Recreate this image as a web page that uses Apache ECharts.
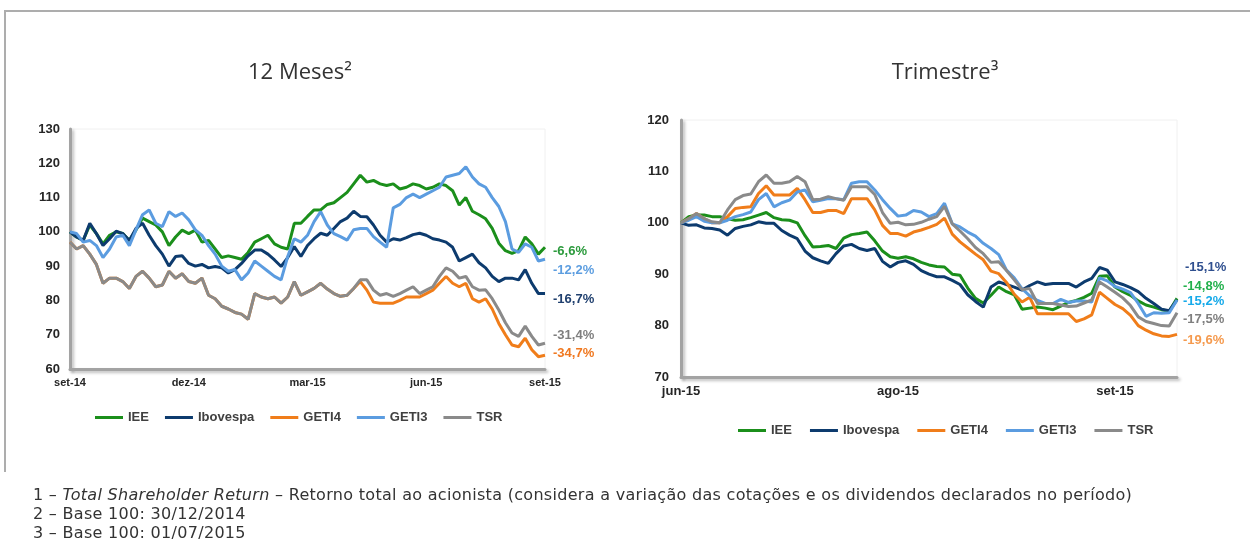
<!DOCTYPE html>
<html>
<head>
<meta charset="utf-8">
<script src="https://cdn.jsdelivr.net/npm/echarts@6/dist/echarts.min.js"></script>
<style>
  body { margin: 0; background: #fff; }
  #wrap { position: relative; width: 1250px; height: 550px; overflow: hidden; }
  #frame { position: absolute; left: 4px; top: 10px; width: 1260px; height: 460px; border-top: 2px solid #adadad; border-left: 2px solid #adadad; }
  #chart { position: absolute; left: 0; top: 0; width: 1250px; height: 550px; }
  #notes { position: absolute; left: 33px; top: 485px; font-family: 'DejaVu Sans', sans-serif; font-size: 16px; letter-spacing: 0.3px; line-height: 19px; color: #333; white-space: nowrap; }
</style>
</head>
<body>
<div id="wrap">
  <div id="frame"></div>
  <div id="chart"></div>
  <div id="notes">
    <div>1 – <i>Total Shareholder Return</i> – Retorno total ao acionista (considera a variação das cotações e os dividendos declarados no período)</div>
    <div>2 – Base 100: 30/12/2014</div>
    <div>3 – Base 100: 01/07/2015</div>
  </div>
</div>
<script>
// rótulos dos eixos
const leftTicks = ['set-14', 'dez-14', 'mar-15', 'jun-15', 'set-15'];
const rightTicks = ['jun-15', 'ago-15', 'set-15'];
const seriesNames = ['IEE', 'Ibovespa', 'GETI4', 'GETI3', 'TSR'];

// variação final escrita ao lado de cada linha
const yearEndLabels = ['-6,6%', '-16,7%', '-34,7%', '-12,2%', '-31,4%'];
const quarterEndLabels = ['-14,8%', '-15,1%', '-19,6%', '-15,2%', '-17,5%'];

// === 12 Meses (set-14 .. set-15) ===
const ieeYear = [100, 98.5, 97.5, 102, 99.5, 96.5, 99, 100, 99.5, 97.5, 100.5, 104, 103, 102, 100, 96, 98.5, 100.5, 99.5, 100.5,
  97, 97.5, 95, 92.5, 93, 92.5, 92, 94, 97, 98, 99, 96.5, 95.5, 95, 102.5, 102.5, 104.5, 106.4, 106.4, 108,
  108.5, 110, 111.5, 114, 116.5, 114.5, 115, 114, 113.5, 114, 112.5, 113, 114, 113.5, 112.5, 113, 114, 113.5, 112, 107.8,
  110, 106, 105, 103.8, 101, 96.7, 94.5, 93.7, 94.5, 98.5, 96.5, 93.5, 95.5];
const ibovYear = [100, 98.5, 97.5, 102.5, 99.5, 96, 98, 100.2, 99.5, 97.5, 101, 102.5, 99, 96, 93.5, 90, 92.8, 93, 90.8, 90,
  90.5, 89.5, 89.9, 89.5, 88, 89, 90.8, 93, 94.7, 94.7, 93.5, 91.8, 89.9, 92.5, 95.7, 92.8, 96, 98, 99.6, 99,
  101, 103, 104, 106, 104.5, 104.4, 102, 99, 97, 98, 97.6, 98.3, 99.2, 99.6, 99, 98, 97.6, 97, 95.5, 91.5,
  92.5, 93.5, 91, 89.5, 87, 85.5, 86.5, 86.5, 86, 89, 85, 82, 82];
const geti4Year = [97, 95, 96, 93.5, 90.5, 85, 86.5, 86.5, 85.5, 83.5, 87, 88.5, 86.5, 84, 84.5, 88.5, 86.5, 87.8, 85.5, 85,
  86.5, 81.5, 80.5, 78.3, 77.5, 76.5, 76, 74.5, 82, 81, 80.5, 81, 79.2, 81, 85.5, 81.5, 82.5, 83.5, 85, 83.3,
  82, 81.2, 81.5, 83.5, 85.5, 83, 79.5, 79.2, 79.2, 79.2, 80, 81, 81, 81, 82, 83, 85, 87, 85, 84,
  85, 80.5, 79.5, 80.5, 77.5, 73.3, 70, 67, 66.5, 69, 65.6, 63.6, 64];
const geti3Year = [100, 99.5, 97, 97.5, 96, 92.5, 95, 98.5, 99, 96, 100.6, 105, 106.4, 102.5, 101.5, 105.9, 104.5, 105.5, 103.5, 100.6,
  99, 96, 93.5, 90, 88.5, 89, 86, 88, 91.5, 90, 88.5, 87, 86, 92.8, 98, 97, 99, 103, 105.9, 102,
  99.5, 98.6, 97.6, 100.6, 101, 101, 98.6, 97, 95.5, 107, 108, 110, 111, 110, 111, 112, 113, 116, 116.5, 117,
  119, 116, 114, 113, 110, 107.4, 103, 95, 94, 96.5, 95.5, 91.5, 92];
const tsrYear = [97, 95, 96, 93.5, 90.5, 85, 86.5, 86.5, 85.5, 83.5, 87, 88.5, 86.5, 84, 84.5, 88.5, 86.5, 87.8, 85.5, 85,
  86.5, 81.5, 80.5, 78.3, 77.5, 76.5, 76, 74.5, 82, 81, 80.5, 81, 79.2, 81, 85.5, 81.5, 82.5, 83.5, 85, 83.3,
  82, 81.2, 81.5, 83.5, 86, 86, 83, 81.5, 82, 81.2, 82, 83, 84, 82, 83, 84, 87, 89.5, 88.5, 86.5,
  87, 84, 83, 83.1, 80.5, 77.2, 73.5, 70.5, 69.5, 72.5, 69.5, 67, 67.5];

// === Trimestre (jun-15 .. set-15) ===
const ieeQuarter = [100, 101.2, 101.5, 101.5, 101.2, 101.2, 100.8, 100.5, 100.6, 101, 101.5, 102, 101, 100.6, 100.5, 100,
  97.5, 95.3, 95.4, 95.6, 95, 97, 97.7, 97.9, 98.2, 96.5, 94.5, 93.4, 93.1, 93.4, 93, 92.3,
  91.8, 91.5, 91.4, 90, 89.8, 87.3, 85.3, 84.4, 85.9, 87.5, 86.6, 86, 83.2, 83.4, 83.6, 83.4,
  83.1, 83.8, 84.5, 84.9, 85.5, 86.3, 89.6, 89.7, 87.5, 86.6, 85.9, 84.8, 84, 83.6, 83.1, 82.8, 85.3];
const ibovQuarter = [100, 99.5, 99.6, 99, 98.9, 98.6, 97.6, 98.9, 99.3, 99.6, 100.2, 99.9, 99.9, 98.5, 97.6, 96.9,
  94.5, 93.2, 92.6, 92.1, 94, 95.5, 95.8, 95, 94.6, 95, 92.5, 91.4, 92.3, 92.6, 91.9, 90.7,
  90, 89.5, 89.5, 88.8, 88, 86, 84.7, 83.6, 87.5, 88.5, 88, 87.5, 86.9, 87.8, 88.5, 88,
  88.2, 88.2, 88.2, 87.5, 88.5, 89.2, 91.3, 90.8, 88.5, 88, 87.4, 86.6, 85.3, 84.3, 83.2, 82.9, 85];
const geti4Quarter = [100, 100.8, 101.8, 100.8, 100, 100, 101.2, 102.8, 103, 103.1, 105.7, 107.2, 105.4, 105.4, 105.4, 106.7,
  104.5, 102, 102, 102.4, 102.4, 101.8, 104.7, 104.7, 104.7, 102.5, 99.5, 97.9, 97.9, 97.4, 98.2, 98.6,
  99.1, 99.7, 100.9, 97.8, 96.3, 95.1, 93.9, 92.8, 90.6, 90.1, 88.4, 86.1, 84.6, 85.5, 82.3, 82.3,
  82.3, 82.3, 82.3, 80.8, 81.3, 82.1, 86.5, 85.3, 84.1, 83.3, 82, 80, 79.1, 78.4, 78, 77.9, 78.3];
const geti3Quarter = [100, 100.5, 101.2, 100.3, 100, 100, 100.5, 101.2, 101.6, 102.1, 104.5, 105.7, 103.1, 103.9, 104.4, 106,
  106.4, 104.1, 104.4, 104.7, 104.7, 104.5, 107.7, 108, 108, 106.4, 104.5, 102.8, 101.3, 101.5, 102.4, 102.1,
  101.2, 101.8, 103.8, 99.8, 99.2, 98.2, 97.4, 96, 95, 93.8, 90.8, 89.3, 87.2, 85.8, 84.9, 84.3,
  84.3, 85.1, 84.5, 84.8, 84.8, 84.6, 89.3, 88.7, 87.6, 87.1, 86.4, 84.3, 81.8, 82.5, 82.4, 82.5, 85];
const tsrQuarter = [100, 100.8, 101.8, 100.8, 100.2, 100, 102.5, 104.5, 105.3, 105.6, 108, 109.3, 107.7, 107.7, 108, 109,
  108, 104.5, 104.6, 105.1, 104.7, 104.4, 107, 107, 107, 105.5, 102, 99.9, 100.1, 99.6, 99.7, 100.1,
  100.7, 101.2, 103.2, 99.8, 98.4, 96.9, 95.2, 94, 92.3, 92.4, 90.7, 88.9, 87, 87.2, 84.3, 84.3,
  84.3, 84, 83.7, 83.8, 84.4, 85, 88.5, 87.5, 86.5, 85.4, 83.9, 81.7, 80.8, 80.4, 80, 79.9, 82.5];

const yearData = [ieeYear, ibovYear, geti4Year, geti3Year, tsrYear];
const quarterData = [ieeQuarter, ibovQuarter, geti4Quarter, geti3Quarter, tsrQuarter];

// estilos
const lineColors = ['#1b8f1b', '#0d3b6e', '#f07d1a', '#5b9ce0', '#8a8a8a'];
const yearLabelColors = ['#2b9a3c', '#1f3f6e', '#f07820', '#5d9ee0', '#7f7f7f'];
const quarterLabelColors = ['#22b14c', '#2f4f8f', '#f59a4e', '#16aaea', '#7f7f7f'];
const yearLabelOffsets = [[3, 4], [3, 6], [3, -2], [3, 11], [3, -8]];
const quarterLabelOffsets = [[1, -12], [3, -32], [1, 6], [1, 2], [1, 7]];

const FONT = '"Liberation Sans", Arial, sans-serif';

const chart = echarts.init(document.getElementById('chart'), null, { renderer: 'canvas' });

function axisLineStyle() {
    return {
        show: true,
        lineStyle: { color: '#a3a3a3', width: 3, shadowColor: 'rgba(0,0,0,0.25)', shadowBlur: 3, shadowOffsetX: 2, shadowOffsetY: 2 }
    };
}

function makeXAxis(gridIndex, count, ticks, step, fontSize) {
    return {
        type: 'category',
        gridIndex: gridIndex,
        boundaryGap: false,
        data: Array.from({ length: count }, (_, i) => i),
        axisLine: axisLineStyle(),
        axisTick: { show: false },
        axisLabel: {
            interval: step - 1,
            margin: 8,
            color: '#262626',
            fontWeight: 'bold',
            fontSize: fontSize,
            fontFamily: FONT,
            formatter: (val, idx) => ticks[idx / step] || ''
        },
        splitLine: { show: false }
    };
}

function makeYAxis(gridIndex, min, max, margin) {
    return {
        type: 'value',
        gridIndex: gridIndex,
        min: min,
        max: max,
        interval: 10,
        axisLine: axisLineStyle(),
        axisTick: { show: false },
        splitLine: { show: false },
        axisLabel: { margin: margin, color: '#262626', fontWeight: 'bold', fontSize: 13, fontFamily: FONT }
    };
}

function makeSeries(idx, data, axisIndex, labels, labelColors, offsets) {
    return {
        name: seriesNames[idx],
        type: 'line',
        xAxisIndex: axisIndex,
        yAxisIndex: axisIndex,
        data: data,
        symbol: 'none',
        smooth: false,
        animation: false,
        color: lineColors[idx],
        lineStyle: { color: lineColors[idx], width: 3 },
        endLabel: {
            show: true,
            formatter: labels[idx],
            color: labelColors[idx],
            fontWeight: 'bold',
            fontSize: 13,
            fontFamily: FONT,
            distance: 5,
            offset: offsets[idx]
        }
    };
}

const series = [];
yearData.forEach((d, i) => series.push(makeSeries(i, d, 0, yearEndLabels, yearLabelColors, yearLabelOffsets)));
quarterData.forEach((d, i) => series.push(makeSeries(i, d, 1, quarterEndLabels, quarterLabelColors, quarterLabelOffsets)));

const legendBase = {
    data: seriesNames,
    icon: 'rect',
    itemWidth: 28,
    itemHeight: 3,
    padding: 0,
    selectedMode: false,
    textStyle: { color: '#404040', fontWeight: 'bold', fontSize: 13, fontFamily: FONT }
};

const option = {
    backgroundColor: 'transparent',
    animation: false,
    graphic: [
        { type: 'text', x: 300, y: 73, style: { text: '12 Meses²', font: '22px "Open Sans"', fill: '#333', textAlign: 'center', textVerticalAlign: 'middle' } },
        { type: 'text', x: 945, y: 73, style: { text: 'Trimestre³', font: '22px "Open Sans"', fill: '#333', textAlign: 'center', textVerticalAlign: 'middle' } }
    ],
    legend: [
        Object.assign({}, legendBase, { left: 95, top: 411, itemGap: 16 }),
        Object.assign({}, legendBase, { left: 738, top: 424, itemGap: 18 })
    ],
    grid: [
        { left: 70, right: 705, top: 129, bottom: 181, show: true, borderColor: '#f0f0f0', borderWidth: 1 },
        { left: 681, right: 73, top: 120, bottom: 173, show: true, borderColor: '#f0f0f0', borderWidth: 1 }
    ],
    xAxis: [
        makeXAxis(0, ieeYear.length, leftTicks, 18, 11),
        makeXAxis(1, ieeQuarter.length, rightTicks, 28, 13)
    ],
    yAxis: [
        makeYAxis(0, 60, 130, 10),
        makeYAxis(1, 70, 120, 12)
    ],
    series: series
};

chart.setOption(option);
</script>
</body>
</html>
